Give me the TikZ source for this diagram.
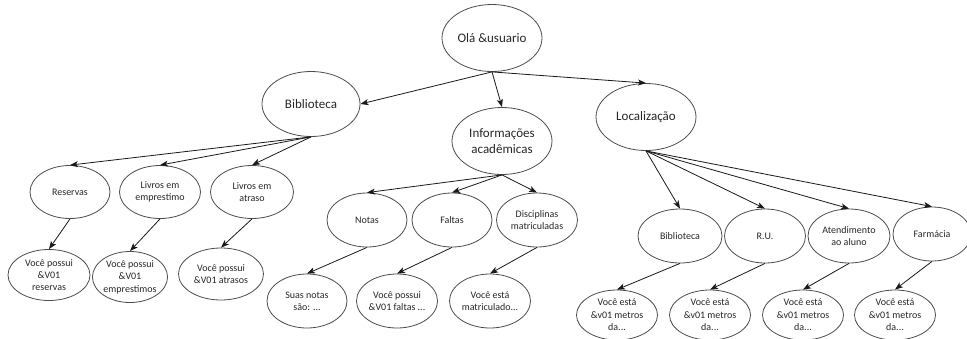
\documentclass[tikz,border=0pt]{standalone}
\usepackage{fontspec}
\setmainfont{Carlito}
\usetikzlibrary{shapes.geometric,arrows.meta}

\tikzset{
  bubble/.style={ellipse, draw=black!70, line width=0.8pt, inner sep=0pt,
    align=center, text=black!85},
  big/.style={bubble, font=\fontsize{13}{15.5}\selectfont},
  small/.style={bubble, font=\fontsize{10}{12.4}\selectfont},
  sz/.style 2 args={minimum width=#1pt, minimum height=#2pt},
  arr/.style={-{Stealth[length=8pt,width=6pt,inset=2pt]}, line width=0.8pt, draw=black!90},
}

\begin{document}
\begin{tikzpicture}[x=1pt,y=-1pt]
  \useasboundingbox (0,0) rectangle (967,338);

  % root and main menu
  \node[big, sz={100}{67}] (root) at (492,38) {Olá \&usuario};
  \node[big, sz={98}{65}]  (bib)  at (311,104) {Biblioteca};
  \node[big, sz={100}{67}] (inf)  at (502,141) {Informações\\acadêmicas};
  \node[big, sz={100}{67}] (loc)  at (646,117) {Localização};

  % library branch
  \node[small, sz={80}{53}] (res)  at (70,192)  {Reservas};
  \node[small, sz={81}{53}] (lemp) at (160,192) {Livros em\\emprestimo};
  \node[small, sz={83}{53}] (latr) at (252,192) {Livros em\\atraso};
  \node[small, sz={82}{51}] (vres) at (49,275)  {Você possui\\\&V01\\reservas};
  \node[small, sz={75}{51}] (vemp) at (130,277) {Você possui\\\&V01\\emprestimos};
  \node[small, sz={85}{52}] (vatr) at (221,274) {Você possui\\\&V01 atrasos};

  % academic branch
  \node[small, sz={80}{54}] (notas)  at (367,220) {Notas};
  \node[small, sz={80}{54}] (faltas) at (452,220) {Faltas};
  \node[small, sz={81}{54}] (disc)   at (537,220) {Disciplinas\\matriculadas};
  \node[small, sz={80}{54}] (vnot) at (307,301) {Suas notas\\são: ...};
  \node[small, sz={81}{54}] (vfal) at (397,301) {Você possui\\\&V01 faltas ...};
  \node[small, sz={81}{54}] (vmat) at (490,301) {Você está\\matriculado...};

  % location branch
  \node[small, sz={84}{54}] (lbib) at (680,236) {Biblioteca};
  \node[small, sz={81}{54}] (ru)   at (765,236) {R.U.};
  \node[small, sz={82}{54}] (aten) at (849,236) {Atendimento\\ao aluno};
  \node[small, sz={78}{54}] (farm) at (932,234) {Farmácia};
  \node[small, sz={81}{50}] (dbib)  at (617,315) {Você está\\\&v01 metros\\da...};
  \node[small, sz={81}{50}] (dru)   at (710,315) {Você está\\\&v01 metros\\da...};
  \node[small, sz={81}{50}] (daten) at (803,315) {Você está\\\&v01 metros\\da...};
  \node[small, sz={81}{50}] (dfarm) at (895,315) {Você está\\\&v01 metros\\da...};

  % connectors
  \draw[arr] (root.south) -- (bib.east);
  \draw[arr] (root.south) -- (inf.north);
  \draw[arr] (root.south) -- (loc.north);

  \draw[arr] (bib.south) -- (res.north);
  \draw[arr] (bib.south) -- (lemp.north);
  \draw[arr] (bib.south) -- (latr.north);
  \draw[arr] (res.south)  -- (vres.north);
  \draw[arr] (lemp.south) -- (vemp.north);
  \draw[arr] (latr.south) -- (vatr.north);

  \draw[arr] (inf.south) -- (notas.north);
  \draw[arr] (inf.south) -- (faltas.north);
  \draw[arr] (inf.south) -- (disc.north);
  \draw[arr] (notas.south)  -- (vnot.north);
  \draw[arr] (faltas.south) -- (vfal.north);
  \draw[arr] (disc.south)   -- (vmat.north);

  \draw[arr] (loc.south) -- (lbib.north);
  \draw[arr] (loc.south) -- (ru.north);
  \draw[arr] (loc.south) -- (aten.north);
  \draw[arr] (loc.south) -- (farm.north);
  \draw[arr] (lbib.south) -- (dbib.north);
  \draw[arr] (ru.south)   -- (dru.north);
  \draw[arr] (aten.south) -- (daten.north);
  \draw[arr] (farm.south) -- (dfarm.north);
\end{tikzpicture}
\end{document}
